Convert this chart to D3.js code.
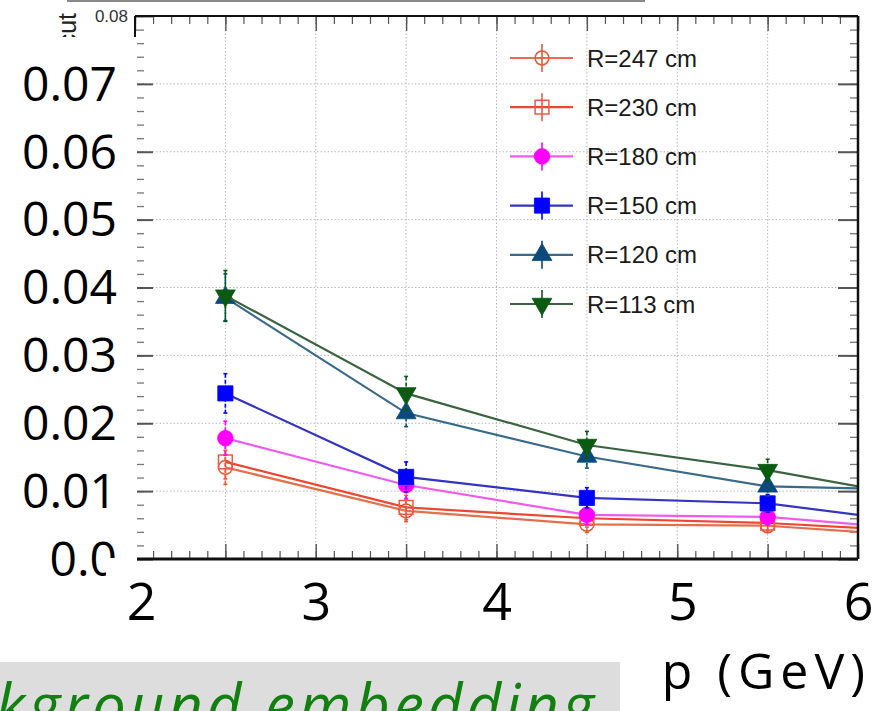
<!DOCTYPE html>
<html lang="en">
<head>
<meta charset="UTF-8">
<title>Fraction vs p for several radii</title>
<script src="https://d3js.org/d3.v7.min.js"></script>
<style>
  html, body { margin: 0; padding: 0; background: #fff; }
  svg { display: block; }
  .big { font-family: "Comic Sans MS", "Open Sans", sans-serif; fill: #000; }
  .legend text { font-family: "Liberation Sans", Arial, sans-serif; font-size: 24px; fill: #1a1a1a; }
  .grid line { stroke: #b8b8b8; stroke-width: 1; stroke-dasharray: 1.5,2; }
</style>
</head>
<body>
<svg width="887" height="711"></svg>
<script>
// momentum bins (last one lies just past the frame, lines get clipped)
const pValues = [2.5, 3.5, 4.5, 5.5, 6.5];

const radii = ["R=247 cm", "R=230 cm", "R=180 cm", "R=150 cm", "R=120 cm", "R=113 cm"];

const r247 = [0.0135, 0.0071, 0.0051, 0.0049, 0.0031];
const r230 = [0.0143, 0.0076, 0.0060, 0.0053, 0.0039];
const r180 = [0.0178, 0.0109, 0.0065, 0.0062, 0.0040];
const r150 = [0.0244, 0.0121, 0.0090, 0.0082, 0.0048];
const r120 = [0.0385, 0.0215, 0.0151, 0.0107, 0.0101];
const r113 = [0.0388, 0.0244, 0.0168, 0.0131, 0.0083];

const e247 = [0.0025, 0.0016, 0.0012, 0.0010, 0.0010];
const e230 = [0.0025, 0.0018, 0.0013, 0.0011, 0.0010];
const e180 = [0.0025, 0.0020, 0.0014, 0.0012, 0.0010];
const e150 = [0.0029, 0.0022, 0.0015, 0.0013, 0.0010];
const e120 = [0.0035, 0.0020, 0.0017, 0.0014, 0.0010];
const e113 = [0.0037, 0.0025, 0.0020, 0.0016, 0.0010];

const xTickLabels = [2, 3, 4, 5, 6];
const yTickLabels = [0, 0.01, 0.02, 0.03, 0.04, 0.05, 0.06, 0.07];

// style per series
const styles = [
  { line: "#e2704c", mark: "#e45a32", sym: d3.symbolCircle, size: 150, open: true },
  { line: "#ee4630", mark: "#f0584a", sym: d3.symbolSquare, size: 190, open: true },
  { line: "#ee5cee", mark: "#ff00ff", sym: d3.symbolCircle, size: 190, open: false },
  { line: "#3434c4", mark: "#0000ff", sym: d3.symbolSquare, size: 230, open: false },
  { line: "#3a6a8a", mark: "#0b4a7a", sym: d3.symbolTriangle, size: 170, open: false },
  { line: "#3a6440", mark: "#0a5a12", sym: d3.symbolTriangle, size: 170, open: false, flip: true }
];

const values = [r247, r230, r180, r150, r120, r113];
const errors = [e247, e230, e180, e150, e120, e113];

const series = radii.map((name, i) => ({
  name,
  style: styles[i],
  points: pValues.map((p, j) => ({ p, v: values[i][j], e: errors[i][j] }))
}));

const svg = d3.select("svg");
const L = 135, R = 858, T = 16, B = 559;

const x = d3.scaleLinear().domain([2, 6]).range([L, R]);
const y = d3.scaleLinear().domain([0, 0.08]).range([B, T]);

svg.append("defs").append("clipPath").attr("id", "plotclip")
  .append("rect").attr("x", L).attr("y", T).attr("width", R - L).attr("height", B - T);

// gray rule at the very top of the slide
svg.append("line").attr("x1", 67).attr("x2", 645).attr("y1", 1).attr("y2", 1)
  .attr("stroke", "#8a8a8a").attr("stroke-width", 2);

// grid
const grid = svg.append("g").attr("class", "grid");
grid.selectAll("line.v").data(d3.range(2.5, 6, 0.5)).join("line")
  .attr("x1", d => x(d)).attr("x2", d => x(d)).attr("y1", T).attr("y2", B);
grid.selectAll("line.h").data(d3.range(0.01, 0.08, 0.01)).join("line")
  .attr("x1", L).attr("x2", R).attr("y1", d => y(d)).attr("y2", d => y(d));

// frame ticks
function ticks(axis, tr, vals, size, color, width) {
  const g = svg.append("g").attr("transform", tr)
    .call(axis.tickValues(vals).tickSize(size).tickFormat(""));
  g.select(".domain").remove();
  g.selectAll("line").attr("stroke", color).attr("stroke-width", width);
}
const xMinor = d3.range(0, 41).map(i => 2 + i * 0.1);
const xMajor = d3.range(0, 9).map(i => 2 + i * 0.5);
const yMinor = d3.range(0, 41).map(i => i * 0.002);
const yMajor = d3.range(0, 9).map(i => i * 0.01);
ticks(d3.axisTop(x), `translate(0,${B})`, xMinor, 8, "#555", 1.2);
ticks(d3.axisTop(x), `translate(0,${B})`, xMajor, 15, "#555", 1.4);
ticks(d3.axisBottom(x), `translate(0,${T})`, xMinor, 8, "#555", 1.2);
ticks(d3.axisBottom(x), `translate(0,${T})`, xMajor, 15, "#555", 1.4);
ticks(d3.axisRight(y), `translate(${L},0)`, yMinor, 9, "#777", 1.3);
ticks(d3.axisRight(y), `translate(${L},0)`, yMajor, 18, "#555", 2);
ticks(d3.axisLeft(y), `translate(${R},0)`, yMinor, 8, "#777", 1.3);
ticks(d3.axisLeft(y), `translate(${R},0)`, yMajor, 20, "#555", 2);

// data
const plot = svg.append("g").attr("clip-path", "url(#plotclip)");
const line = d3.line().x(d => x(d.p)).y(d => y(d.v));
const symbolPath = st => d3.symbol().type(st.sym).size(st.size)();

series.forEach(s => {
  const g = plot.append("g");
  g.append("path").datum(s.points).attr("d", line)
    .attr("fill", "none").attr("stroke", s.style.line).attr("stroke-width", 2.2);
  const pts = g.selectAll("g.pt").data(s.points).join("g")
    .attr("transform", d => `translate(${x(d.p)},${y(d.v)})`);
  pts.append("line").attr("x1", 0).attr("x2", 0)
    .attr("y1", d => y(d.v + d.e) - y(d.v)).attr("y2", d => y(d.v - d.e) - y(d.v))
    .attr("stroke", s.style.mark).attr("stroke-width", 1.6).attr("stroke-dasharray", "4,2");
  pts.append("line").attr("x1", -2).attr("x2", 2)
    .attr("y1", d => y(d.v + d.e) - y(d.v)).attr("y2", d => y(d.v + d.e) - y(d.v))
    .attr("stroke", s.style.mark).attr("stroke-width", 1.6);
  pts.append("line").attr("x1", -2).attr("x2", 2)
    .attr("y1", d => y(d.v - d.e) - y(d.v)).attr("y2", d => y(d.v - d.e) - y(d.v))
    .attr("stroke", s.style.mark).attr("stroke-width", 1.6);
  pts.append("path").attr("d", symbolPath(s.style))
    .attr("transform", s.style.flip ? "rotate(180)" : null)
    .attr("fill", s.style.open ? "none" : s.style.mark)
    .attr("stroke", s.style.mark).attr("stroke-width", s.style.open ? 1.5 : 0.8);
});

// frame
svg.append("line").attr("x1", L).attr("x2", R).attr("y1", T).attr("y2", T).attr("stroke", "#111").attr("stroke-width", 2);
svg.append("line").attr("x1", R).attr("x2", R).attr("y1", T).attr("y2", B).attr("stroke", "#111").attr("stroke-width", 2.5);
svg.append("line").attr("x1", L).attr("x2", R).attr("y1", B).attr("y2", B).attr("stroke", "#111").attr("stroke-width", 3);
svg.append("line").attr("x1", L).attr("x2", L).attr("y1", T).attr("y2", B).attr("stroke", "#111").attr("stroke-width", 2);

// legend
const leg = svg.append("g").attr("class", "legend");
series.forEach((s, i) => {
  const g = leg.append("g").attr("transform", `translate(542,${58 + i * 49.2})`);
  g.append("line").attr("x1", -32).attr("x2", 31).attr("stroke", s.style.line).attr("stroke-width", 2.2);
  g.append("line").attr("y1", -14).attr("y2", 14).attr("stroke", s.style.mark).attr("stroke-width", 1.6);
  g.append("path").attr("d", symbolPath(s.style))
    .attr("transform", s.style.flip ? "rotate(180)" : null)
    .attr("fill", s.style.open ? "none" : s.style.mark)
    .attr("stroke", s.style.mark).attr("stroke-width", s.style.open ? 1.5 : 0.8);
  g.append("text").attr("x", 45).attr("dy", "0.36em").text(s.name);
});

// y-axis title, mostly hidden under the slide's label box
svg.append("text")
  .attr("transform", "translate(76,13) rotate(-90)")
  .attr("text-anchor", "end")
  .attr("font-family", "Liberation Sans, Arial, sans-serif")
  .attr("font-size", 25).attr("fill", "#222")
  .text("fraction lost to cut");

svg.append("text").attr("x", 128).attr("y", 22).attr("text-anchor", "end")
  .attr("font-family", "Liberation Sans, Arial, sans-serif")
  .attr("font-size", 17).attr("fill", "#333").text("0.08");

// slide text box covering the plot's own left side
svg.append("rect").attr("x", 0).attr("y", 37).attr("width", 137).attr("height", 560).attr("fill", "#fff");

// big y labels
const yAx = svg.append("g").attr("class", "big").attr("transform", "translate(117,0)")
  .call(d3.axisLeft(y).tickValues(yTickLabels).tickSize(0).tickPadding(0)
    .tickFormat(d => d === 0 ? "0.0" : d3.format(".2f")(d)));
yAx.select(".domain").remove();
yAx.selectAll("text").attr("class", "big").attr("font-size", 48).attr("dy", "0.34em")
  .style("font-family", "'Comic Sans MS', 'Open Sans', sans-serif");

// x labels box overlaps the bottom of "0.0"
svg.append("rect").attr("x", 106).attr("y", 558).attr("width", 29).attr("height", 40).attr("fill", "#fff");

const xAx = svg.append("g").attr("transform", "translate(0,620)")
  .call(d3.axisBottom(x).tickValues(xTickLabels).tickSize(0).tickPadding(0).tickFormat(d3.format("d")));
xAx.select(".domain").remove();
xAx.selectAll("text").attr("y", 0).attr("dy", 0).attr("font-size", 52)
  .attr("dx", d => d === 2 ? 6 : (d === 5 ? 5 : 0))
  .style("font-family", "'Comic Sans MS', 'Open Sans', sans-serif").attr("fill", "#000");

svg.append("text").attr("x", 871).attr("y", 689).attr("text-anchor", "end")
  .style("font-family", "'Comic Sans MS', 'Open Sans', sans-serif")
  .attr("font-size", 50).attr("letter-spacing", 6).text("p (GeV)");

// green caption on gray band
svg.append("rect").attr("x", 0).attr("y", 662).attr("width", 620).attr("height", 60).attr("fill", "#dddddd");
svg.append("text").attr("x", 598).attr("y", 727).attr("text-anchor", "end")
  .style("font-family", "'Comic Sans MS', 'Open Sans', sans-serif")
  .attr("font-style", "italic").attr("font-size", 60).attr("letter-spacing", 4)
  .attr("fill", "#118011").text("Background embedding");
</script>
</body>
</html>
